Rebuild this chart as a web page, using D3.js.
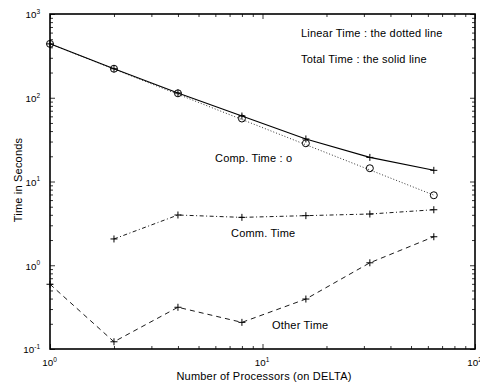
<!DOCTYPE html>
<html>
<head>
<meta charset="utf-8">
<script src="https://cdn.jsdelivr.net/npm/d3@7"></script>
<style>
  html, body { margin: 0; padding: 0; background: #fff; }
  svg { display: block; font-family: "Liberation Sans", Arial, Helvetica, sans-serif; }
</style>
</head>
<body>
<svg id="chart" width="480" height="385"></svg>
<script>
// Processor counts on the DELTA machine
const processors = [1, 2, 4, 8, 16, 32, 64];

// Timings in seconds
const totalTime  = [440, 222, 114, 60.5, 32.2, 19.4, 13.6];
const compTime   = [440, 222, 113, 56.5, 28.6, 14.4, 6.85];
const linearTime = [440, 220, 110, 55, 27.5, 13.75, 6.875];
const commProcs  = [2, 4, 8, 16, 32, 64];
const commTime   = [2.06, 3.98, 3.73, 3.91, 4.09, 4.6];
const otherTime  = [0.593, 0.122, 0.315, 0.208, 0.395, 1.07, 2.19];

// Axis decades
const xTickExps = [0, 1, 2];
const yTickExps = [-1, 0, 1, 2, 3];

const svg = d3.select("#chart");
const box = { left: 50, right: 475, top: 14, bottom: 349 };

const x = d3.scaleLog().domain([1, 100]).range([box.left, box.right]);
const y = d3.scaleLog().domain([0.1, 1000]).range([box.bottom, box.top]);

const plot = svg.append("g");

// Minor/major tick values (2..9 per decade)
const minorX = [];
for (let d = 0; d < 2; d++) for (let k = 2; k <= 9; k++) minorX.push(k * Math.pow(10, d));
const minorY = [];
for (let d = -1; d < 3; d++) for (let k = 2; k <= 9; k++) minorY.push(k * Math.pow(10, d));
const majorX = xTickExps.map(e => Math.pow(10, e));
const majorY = yTickExps.map(e => Math.pow(10, e));

// Inward ticks on all four sides
function ticksOnAxis(axisGen, vals, size, transform) {
  plot.append("g")
    .attr("transform", transform)
    .call(axisGen.tickValues(vals).tickSize(size).tickFormat(""))
    .call(g => g.select(".domain").remove())
    .call(g => g.selectAll("line").attr("stroke", "#000").attr("stroke-width", 0.8));
}
ticksOnAxis(d3.axisTop(x), minorX, 3, `translate(0,${box.bottom})`);
ticksOnAxis(d3.axisTop(x), majorX, 5, `translate(0,${box.bottom})`);
ticksOnAxis(d3.axisBottom(x), minorX, 3, `translate(0,${box.top})`);
ticksOnAxis(d3.axisBottom(x), majorX, 5, `translate(0,${box.top})`);
ticksOnAxis(d3.axisRight(y), minorY, 3, `translate(${box.left},0)`);
ticksOnAxis(d3.axisRight(y), majorY, 5, `translate(${box.left},0)`);
ticksOnAxis(d3.axisLeft(y), minorY, 3, `translate(${box.right},0)`);
ticksOnAxis(d3.axisLeft(y), majorY, 5, `translate(${box.right},0)`);

// Frame
plot.append("rect")
  .attr("x", box.left).attr("y", box.top)
  .attr("width", box.right - box.left).attr("height", box.bottom - box.top)
  .attr("fill", "none").attr("stroke", "#000").attr("stroke-width", 1.6);

// Tick labels as 10 with superscript exponent
xTickExps.forEach(e => {
  const t = svg.append("text")
    .attr("x", x(Math.pow(10, e)) - 0.5).attr("y", box.bottom + 17)
    .attr("text-anchor", "middle").attr("font-size", 9.8);
  t.append("tspan").text("10");
  t.append("tspan").attr("dy", -4.5).attr("font-size", 6.5).text(e);
});
yTickExps.forEach(e => {
  const t = svg.append("text")
    .attr("x", box.left - 10).attr("y", y(Math.pow(10, e)) + 4.3)
    .attr("text-anchor", "end").attr("font-size", 9.8);
  t.append("tspan").text("10");
  t.append("tspan").attr("dy", -4.5).attr("font-size", 6.5).text(e);
});

// Axis titles
const labelStyle = sel => sel.attr("font-size", 11).attr("letter-spacing", 0.2);
svg.append("text")
  .attr("x", 264).attr("y", 380)
  .attr("text-anchor", "middle")
  .call(labelStyle)
  .text("Number of Processors (on DELTA)");
svg.append("text")
  .attr("transform", "translate(22,180) rotate(-90)")
  .attr("text-anchor", "middle")
  .call(labelStyle)
  .text("Time in Seconds");

// Series lines
const line = d3.line().x(d => x(d[0])).y(d => y(d[1]));
const zipWith = (xs, ys) => xs.map((v, i) => [v, ys[i]]);

function drawLine(data, dash, width) {
  plot.append("path")
    .datum(data)
    .attr("d", line)
    .attr("fill", "none")
    .attr("stroke", "#000")
    .attr("stroke-width", width)
    .attr("stroke-dasharray", dash);
}
drawLine(zipWith(processors, linearTime), "1,2", 0.8);
drawLine(zipWith(processors, totalTime), null, 1.1);
drawLine(zipWith(commProcs, commTime), "4,2.5,1,2.5", 0.9);
drawLine(zipWith(processors, otherTime), "5,4", 0.9);

// Plus markers
function drawPlus(data) {
  plot.append("g").selectAll("path")
    .data(data).join("path")
    .attr("d", d => {
      const px = x(d[0]), py = y(d[1]), s = 3.5;
      return `M${px - s},${py}H${px + s}M${px},${py - s}V${py + s}`;
    })
    .attr("stroke", "#000").attr("stroke-width", 1);
}
drawPlus(zipWith(processors, totalTime));
drawPlus(zipWith(commProcs, commTime));
drawPlus(zipWith(processors, otherTime));

// Circle markers for computation time
plot.append("g").selectAll("circle")
  .data(zipWith(processors, compTime)).join("circle")
  .attr("cx", d => x(d[0])).attr("cy", d => y(d[1]))
  .attr("r", 3.5)
  .attr("fill", "none").attr("stroke", "#000").attr("stroke-width", 1);

// Annotations
const notes = [
  { text: "Linear Time : the dotted line", x: 301, y: 37 },
  { text: "Total Time : the solid line", x: 301, y: 63 },
  { text: "Comp. Time : o", x: 215, y: 162 },
  { text: "Comm. Time", x: 231, y: 237 },
  { text: "Other Time", x: 272, y: 329 }
];
svg.append("g").selectAll("text")
  .data(notes).join("text")
  .attr("x", d => d.x).attr("y", d => d.y)
  .call(labelStyle)
  .text(d => d.text);
</script>
</body>
</html>
